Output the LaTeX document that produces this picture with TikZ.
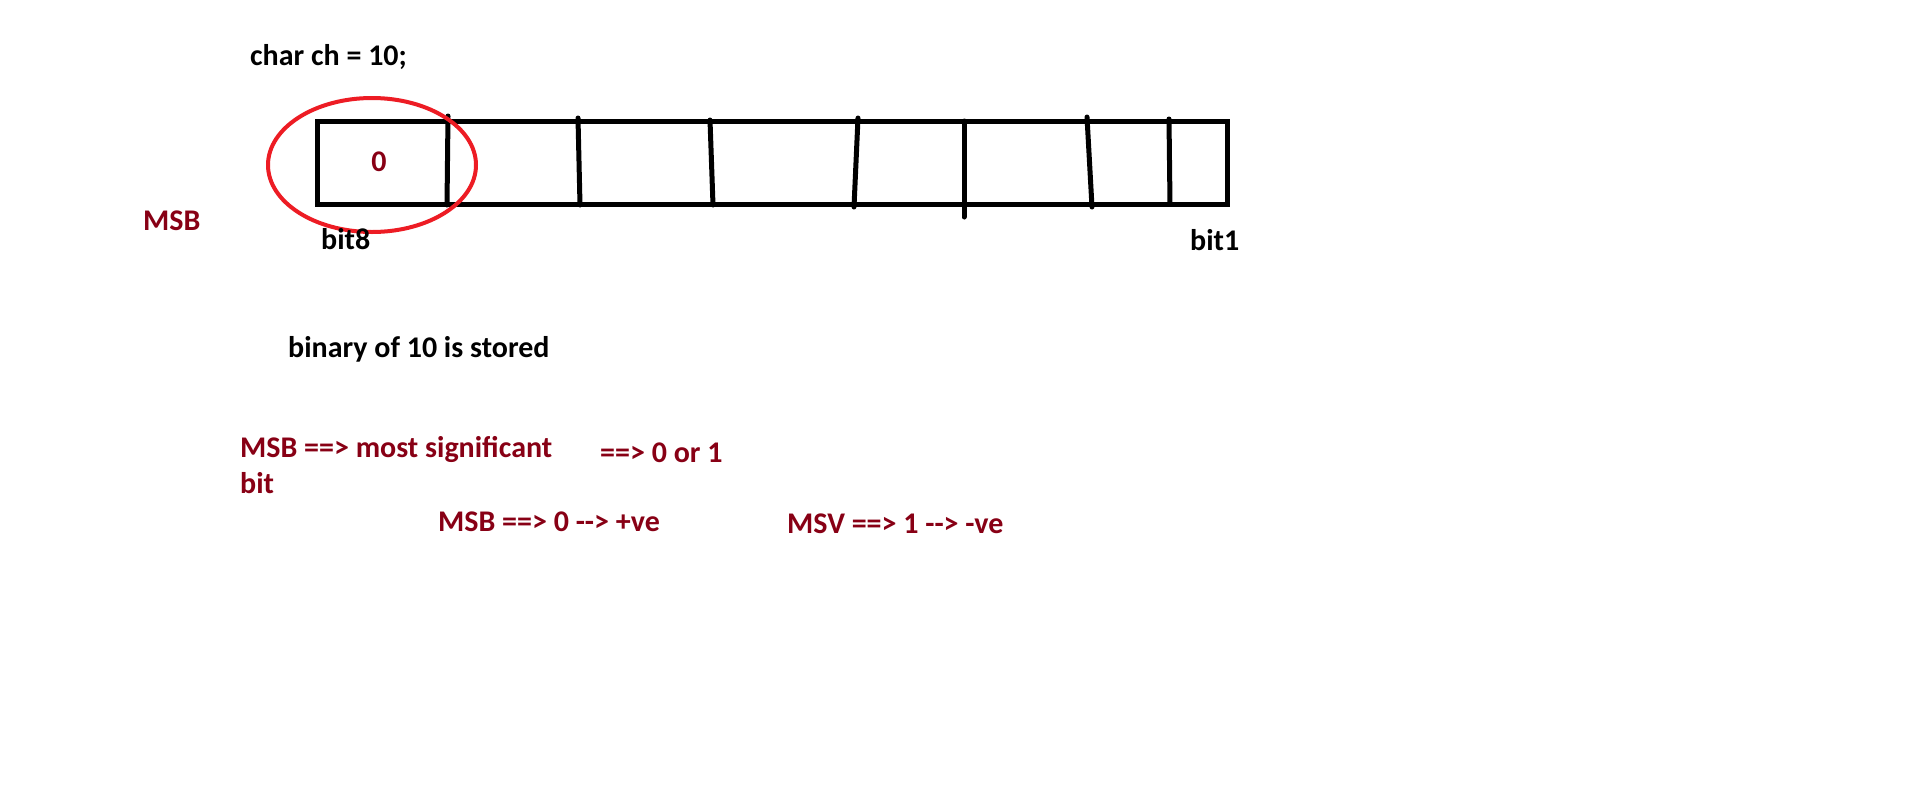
\documentclass[tikz,border=0pt]{standalone}
\usepackage{fontspec}
\setmainfont{Carlito}
\definecolor{dred}{HTML}{880015}
\definecolor{pred}{HTML}{ED1C24}
\tikzset{
  txt/.style={font=\bfseries\fontsize{30}{34}\selectfont, inner sep=0pt, anchor=base west, text=black},
  rtxt/.style={txt, text=dred},
  cellline/.style={line width=5pt, draw=black, line cap=round},
  ring/.style={line width=4pt, draw=pred}
}
\begin{document}
\begin{tikzpicture}[x=1pt,y=-1pt]
\useasboundingbox[fill=white] (0,0) rectangle (1914,809);
% the byte
\draw[cellline, line cap=butt] (317,121) rectangle (1227,204);
\coordinate (d1t) at (448,116); \coordinate (d1b) at (447,205);
\coordinate (d2t) at (578,118); \coordinate (d2b) at (580,205);
\coordinate (d3t) at (710,120); \coordinate (d3b) at (713,205);
\coordinate (d4t) at (858,118); \coordinate (d4b) at (854,207);
\coordinate (d5t) at (964,121); \coordinate (d5b) at (964,217);
\coordinate (d6t) at (1087,117); \coordinate (d6b) at (1092,207);
\coordinate (d7t) at (1169,119); \coordinate (d7b) at (1170,204);
\foreach \i in {1,...,7} \draw[cellline] (d\i t) -- (d\i b);
% ring round the MSB
\draw[ring] (372,165) ellipse [x radius=104, y radius=67];
% texts
\node[txt]  (decl)   at (250,65)  {char ch = 10;};
\node[rtxt, anchor=base] (zero) at (379,171) {0};
\node[rtxt] (msb)    at (143,230) {MSB};
\node[txt]  (bit8)   at (321,249) {bit8};
\node[txt]  (bit1)   at (1190,250) {bit1};
\node[txt]  (bin)    at (288,357) {binary of 10 is stored};
\node[rtxt] (def)    at (240,457) {MSB ==> most significant};
\node[rtxt] (defb)   at (240,493) {bit};
\node[rtxt] (vals)   at (600,462) {==> 0 or 1};
\node[rtxt] (pos)    at (438,531) {MSB ==> 0 -{}-> +ve};
\node[rtxt] (neg)    at (787,533) {MSV ==> 1 -{}-> -ve};
\end{tikzpicture}
\end{document}
